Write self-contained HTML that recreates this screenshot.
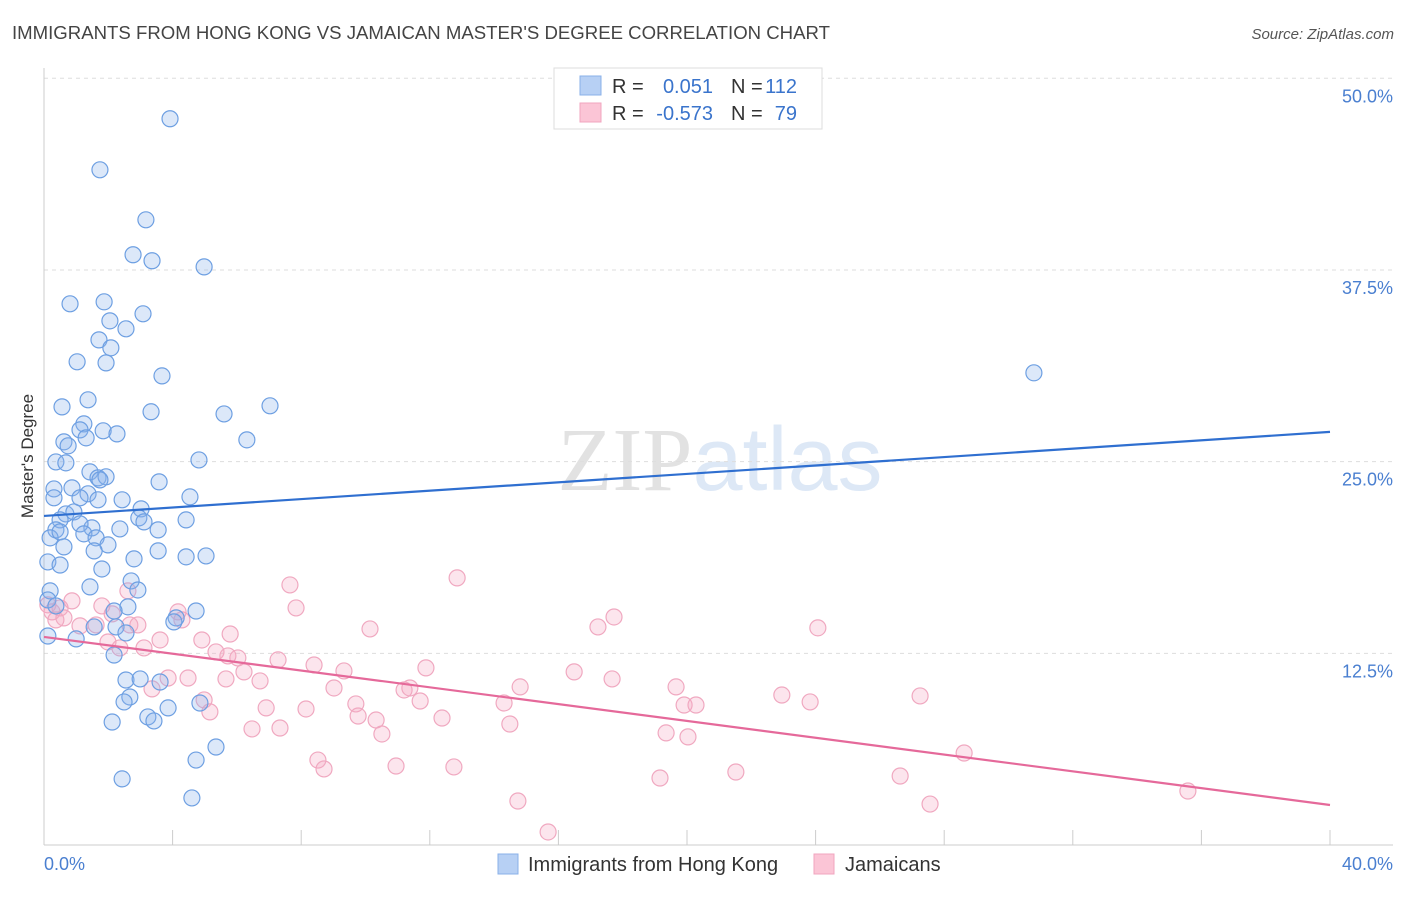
<!DOCTYPE html>
<html><head><meta charset="utf-8"><style>
body{margin:0;background:#fff;font-family:"Liberation Sans",sans-serif;}
svg text{font-family:"Liberation Sans",sans-serif;}
</style></head><body>
<svg id="chart" width="1406" height="892" xmlns="http://www.w3.org/2000/svg">
<text x="12" y="39" font-size="18.6" fill="#444">IMMIGRANTS FROM HONG KONG VS JAMAICAN MASTER'S DEGREE CORRELATION CHART</text>
<text x="1394" y="39" font-size="15" fill="#555" font-style="italic" text-anchor="end">Source: ZipAtlas.com</text>
<text x="720" y="490" font-size="90" text-anchor="middle" opacity="0.55"><tspan font-family="Liberation Serif" fill="#ccc">ZIP</tspan><tspan fill="#c2d6f0">atlas</tspan></text>
<text transform="translate(33,456) rotate(-90)" font-size="17" fill="#333" text-anchor="middle">Master's Degree</text>
<g id="grid"></g><g id="axes"></g><g id="pts"></g><g id="trends"></g>
<g>
<rect x="554" y="68" width="268" height="61" fill="#fff" stroke="#ddd"/>
<rect x="580" y="76" width="21" height="19" fill="#b7d0f4" stroke="#8ab0e8"/>
<rect x="580" y="103" width="21" height="19" fill="#fbc5d6" stroke="#f0a5bf"/>
<text x="612" y="93" font-size="20" fill="#333">R =</text>
<text x="713" y="93" font-size="20" fill="#3a74cc" text-anchor="end">0.051</text>
<text x="731" y="93" font-size="20" fill="#333">N =</text>
<text x="797" y="93" font-size="20" fill="#3a74cc" text-anchor="end">112</text>
<text x="612" y="120" font-size="20" fill="#333">R =</text>
<text x="713" y="120" font-size="20" fill="#3a74cc" text-anchor="end">-0.573</text>
<text x="731" y="120" font-size="20" fill="#333">N =</text>
<text x="797" y="120" font-size="20" fill="#3a74cc" text-anchor="end">79</text>
</g>
<g>
<rect x="498" y="854" width="20" height="20" fill="#b7d0f4" stroke="#8ab0e8"/>
<text x="528" y="871" font-size="20" fill="#333">Immigrants from Hong Kong</text>
<rect x="814" y="854" width="20" height="20" fill="#fbc5d6" stroke="#f0a5bf"/>
<text x="845" y="871" font-size="20" fill="#333">Jamaicans</text>
</g>
</svg>
<script>
const blueX=[3.92,1.74,3.17,2.77,3.36,4.98,0.81,1.87,3.08,2.05,2.55,1.71,2.08,1.03,1.93,3.67,1.37,0.56,3.33,5.60,7.03,1.24,1.12,1.84,2.27,0.62,1.31,6.31,0.75,0.37,0.68,4.82,1.43,3.58,1.68,1.93,1.74,0.31,0.87,1.37,1.68,1.12,2.43,4.54,0.31,3.02,0.68,0.93,0.50,2.95,3.11,4.42,1.49,1.12,0.37,2.36,3.55,0.19,0.50,1.24,1.62,1.99,0.62,1.56,3.55,4.42,5.04,2.80,0.12,0.50,1.80,2.71,1.43,2.92,0.19,0.12,0.37,2.61,2.18,4.73,4.11,1.56,2.24,4.04,2.55,0.12,1.00,2.18,2.55,2.99,3.61,2.67,2.49,3.86,4.85,3.23,3.42,2.12,5.35,4.73,2.43,4.60,30.79];
const blueY=[47.36,44.03,40.77,38.49,38.10,37.70,35.29,35.42,34.64,34.18,33.66,32.94,32.42,31.51,31.44,30.59,29.03,28.57,28.25,28.11,28.64,27.46,27.07,27.01,26.81,26.29,26.55,26.42,26.03,24.98,24.92,25.11,24.33,23.68,23.94,24.01,23.81,23.22,23.29,22.90,22.51,22.64,22.51,22.70,22.64,21.92,21.59,21.72,21.20,21.33,21.07,21.20,20.68,20.94,20.55,20.61,20.55,20.03,20.42,20.29,20.03,19.57,19.44,19.18,19.18,18.79,18.85,18.66,18.46,18.26,18.00,17.22,16.83,16.63,16.57,15.98,15.59,15.53,15.26,15.26,14.81,14.22,14.22,14.55,13.83,13.63,13.44,12.39,10.76,10.83,10.63,9.65,9.33,8.94,9.26,8.35,8.09,8.02,6.39,5.54,4.31,3.07,30.79];
const pinkX=[0.12,0.50,0.87,0.25,0.37,0.62,1.12,1.62,1.80,2.12,2.61,2.67,2.92,1.99,2.36,3.11,3.61,4.17,4.29,4.91,5.35,5.79,5.72,6.03,6.22,6.72,6.91,6.47,5.66,4.98,5.16,3.86,4.48,3.36,7.65,7.84,7.28,8.15,7.34,8.40,9.33,9.02,8.52,8.71,9.70,9.77,10.33,10.51,10.14,10.95,11.20,11.38,11.70,11.88,12.38,12.75,12.85,14.31,14.49,14.74,14.81,15.68,16.49,17.23,17.73,17.67,19.16,19.35,19.66,19.91,20.03,20.28,21.52,22.95,23.83,24.07,26.63,27.25,27.56,28.62,35.58];
const pinkY=[15.66,15.46,15.92,15.20,14.68,14.81,14.29,14.35,15.59,15.07,16.57,14.35,14.35,13.24,12.85,12.85,13.37,15.20,14.68,13.37,12.59,13.76,12.33,12.20,11.29,10.70,8.94,7.57,10.83,9.46,8.68,10.89,10.89,10.18,16.96,15.46,12.07,8.87,7.63,11.74,11.35,10.24,5.54,4.96,9.20,8.41,8.15,7.24,14.09,5.15,10.11,10.24,9.39,11.55,8.28,5.09,17.42,9.26,7.89,2.87,10.31,0.85,11.29,14.22,14.87,10.83,4.37,7.31,10.31,9.13,7.05,9.13,4.76,9.78,9.33,14.16,4.50,9.72,2.67,6.00,3.52];
const blueTrend=[21.46,26.94];
const pinkTrend=[13.57,2.61];
const yTicks=[12.5,25,37.5,50];
const yTickLabels=["12.5%","25.0%","37.5%","50.0%"];
const xTicks=[0,4,8,12,16,20,24,28,32,36,40];

const X0=44,X1=1330,Y0=845,PX=(X1-X0)/40,PY=15.335;
const sx=v=>X0+v*PX, sy=v=>Y0-v*PY;
const NS="http://www.w3.org/2000/svg";
function mk(tag,parent,attrs){const e=document.createElementNS(NS,tag);for(const k in attrs)e.setAttribute(k,attrs[k]);document.getElementById(parent).appendChild(e);return e;}

yTicks.forEach((t,i)=>{
  const g=mk('line','grid',{x1:X0,x2:1393,y1:sy(t),y2:sy(t),stroke:'#ddd','stroke-dasharray':'4,4'});
  
  
  const l=mk('text','axes',{x:1393,y:sy(t)+24,'font-size':18,fill:'#4a7fd0','text-anchor':'end'});
  l.textContent=yTickLabels[i];
  
  
});
const ax=mk('line','axes',{x1:X0,x2:1393,y1:Y0,y2:Y0,stroke:'#ccc'});


const ay=mk('line','axes',{x1:X0,x2:X0,y1:68,y2:Y0,stroke:'#ccc'});


xTicks.forEach(t=>{
  const tk=mk('line','axes',{x1:sx(t),x2:sx(t),y1:830,y2:Y0,stroke:'#ccc'});
  
  
});
const xl0=mk('text','axes',{x:44,y:870,'font-size':18,fill:'#4a7fd0'});xl0.textContent='0.0%';


const xl1=mk('text','axes',{x:1393,y:870,'font-size':18,fill:'#4a7fd0','text-anchor':'end'});xl1.textContent='40.0%';



pinkX.forEach((v,i)=>{
  const c=mk('circle','pts',{cx:sx(v),cy:sy(pinkY[i]),r:8,fill:'rgba(246,170,196,0.3)',stroke:'#f0a8c0','stroke-width':1.2});
  
  
});
blueX.forEach((v,i)=>{
  const c=mk('circle','pts',{cx:sx(v),cy:sy(blueY[i]),r:8,fill:'rgba(140,180,236,0.3)',stroke:'#6d9fe2','stroke-width':1.2});
  
  
});
const bt=mk('line','trends',{x1:sx(0),x2:sx(40),y1:sy(blueTrend[0]),y2:sy(blueTrend[1]),stroke:'#2f6fd0','stroke-width':2.2});


const pt=mk('line','trends',{x1:sx(0),x2:sx(40),y1:sy(pinkTrend[0]),y2:sy(pinkTrend[1]),stroke:'#e5699a','stroke-width':2.2});


</script>
</body></html>
